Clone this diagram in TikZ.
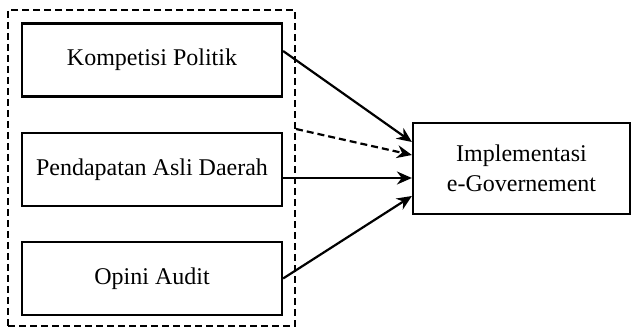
\documentclass[tikz,border=0pt]{standalone}
\usepackage{fontspec}
\setmainfont{Liberation Serif}
\usetikzlibrary{arrows.meta}

\tikzset{
  varbox/.style={draw, line width=2.2pt, minimum width=260pt, minimum height=73pt,
    inner sep=0pt, font=\fontsize{24}{30}\selectfont},
  panah/.style={line width=2.2pt, -{Stealth[length=15pt,width=13pt]}}
}

\begin{document}
\begin{tikzpicture}[x=1pt,y=-1pt]
        \useasboundingbox (0,0) rectangle (632,328);
        \node[draw, dashed, line width=2pt, dash pattern=on 7pt off 4pt,
          minimum width=287pt, minimum height=316pt, inner sep=0pt] (grp) at (151.5,168) {};
        \node[varbox] (kp) at (152,60) {Kompetisi Politik};
        \node[varbox] (pad) at (152,169.5) {Pendapatan Asli Daerah};
        \node[varbox] (oa) at (152,278.5) {Opini Audit};
        \node[draw, line width=2.2pt, minimum width=217pt, minimum height=91pt, inner sep=0pt,
          align=center, font=\fontsize{24}{30}\selectfont] (ieg) at (521.5,168.5)
          {Implementasi\\e-Governement};
        \draw[panah] ([yshift=9pt]kp.east) -- ([yshift=26.5pt]ieg.west);
        \draw[panah, dashed, dash pattern=on 7pt off 4pt] ([yshift=39pt]grp.east) -- ([yshift=13.5pt]ieg.west);
        \draw[panah] ([yshift=-8.5pt]pad.east) -- ([yshift=-9.5pt]ieg.west);
        \draw[panah] (oa.east) -- ([yshift=-27.5pt]ieg.west);
      \end{tikzpicture}
\end{document}
